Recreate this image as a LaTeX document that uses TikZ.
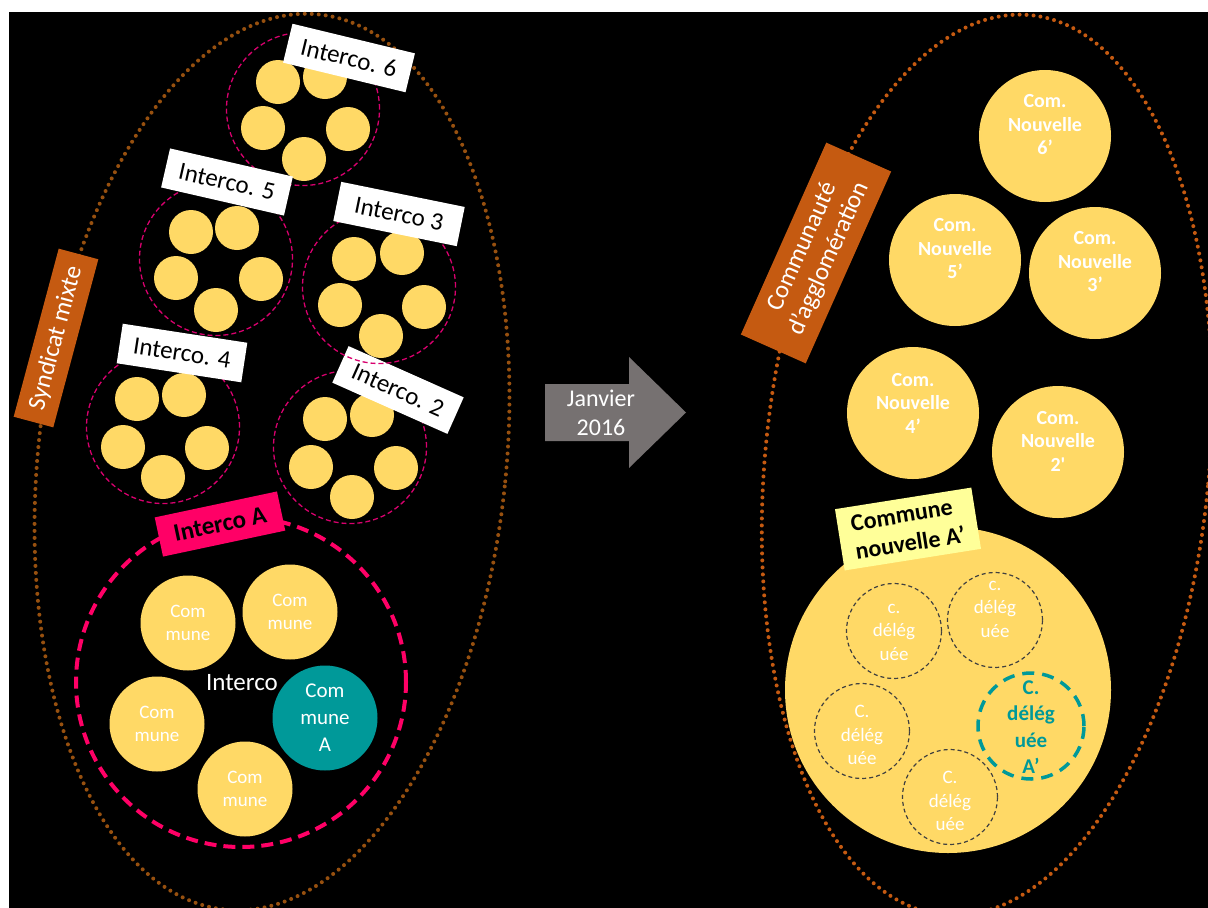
\documentclass[tikz,border=0pt]{standalone}
\usepackage{fontspec}
\setmainfont{Carlito}
\definecolor{cyel}{HTML}{FFD966}
\definecolor{cmag}{HTML}{D8006E}
\definecolor{cpink}{HTML}{FF0066}
\definecolor{cteal}{HTML}{009999}
\definecolor{cgray}{HTML}{767171}
\definecolor{corange}{HTML}{C55A11}
\definecolor{cbrown}{HTML}{97500F}
\definecolor{clight}{HTML}{FFFF99}
\definecolor{cdash}{HTML}{404040}
\tikzset{
  ycirc/.style={circle, fill=cyel, minimum size=44pt, inner sep=0pt},
  grp/.style={circle, draw=cmag, line width=1.3pt, dash pattern=on 5pt off 3pt, minimum size=153pt, inner sep=0pt},
  wlabel/.style={fill=white, text=black, minimum width=126pt, minimum height=40pt, inner sep=0pt, font=\fontsize{25}{30}\selectfont},
  comm/.style={circle, fill=cyel, minimum size=95pt, inner sep=0pt},
  commtxt/.style={text=white, align=center, font=\fontsize{19}{23.5}\selectfont},
  nouv/.style={circle, fill=cyel, minimum size=132pt, inner sep=0pt},
  nouvtxt/.style={text=white, align=center, font=\bfseries\fontsize{20}{23.5}\selectfont},
  deleg/.style={circle, draw=cdash, line width=1.2pt, dash pattern=on 4pt off 3pt, minimum size=95pt, inner sep=0pt},
  delegtxt/.style={text=white, align=center, font=\fontsize{19}{23.5}\selectfont},
  orangebox/.style={fill=corange, text=white, inner sep=0pt, align=center, font=\fontsize{25}{29}\selectfont},
  leftdots/.style={draw=cbrown, line width=4pt, line cap=round, dash pattern=on 0pt off 7pt},
  rightdots/.style={draw=corange, line width=4pt, line cap=round, dash pattern=on 0pt off 7pt}
}
\begin{document}
\begin{tikzpicture}[x=1pt,y=-1pt]
\useasboundingbox (0,0) rectangle (1208,908);
\fill[white] (0,0) rectangle (1208,908);
\fill[black] (9,12) rectangle (1208,908);

% big ellipses
\draw[leftdots, rotate around={-6:(272,462)}] (272,462) ellipse [x radius=234, y radius=450];
\draw[rightdots, rotate around={-5.5:(987,465)}] (987,465) ellipse [x radius=222, y radius=452];

% Interco 6
\node[grp] (g6) at (303,109) {};
\node[ycirc] (g6a) at (278,82) {};
\node[ycirc] (g6b) at (325,77) {};
\node[ycirc] (g6c) at (263,128) {};
\node[ycirc] (g6d) at (348,129) {};
\node[ycirc] (g6e) at (304,159) {};
\node[wlabel, rotate=-13.6] (l6) at (349,58) {Interco. 6};

% Interco 5
\node[grp] (g5) at (216,259) {};
\node[ycirc] (g5a) at (191,232) {};
\node[ycirc] (g5b) at (237,228) {};
\node[ycirc] (g5c) at (176,278) {};
\node[ycirc] (g5d) at (261,279) {};
\node[ycirc] (g5e) at (216,310) {};
\node[wlabel, rotate=-12.9] (l5) at (227,182) {Interco. 5};

% Interco 4
\node[grp] (g4) at (163,427) {};
\node[ycirc] (g4a) at (137,399) {};
\node[ycirc] (g4b) at (184,395) {};
\node[ycirc] (g4c) at (123,447) {};
\node[ycirc] (g4d) at (207,448) {};
\node[ycirc] (g4e) at (163,477) {};
\node[wlabel, rotate=-8.7] (l4) at (182,353) {Interco. 4};

% Interco 2
\node[grp] (g2) at (350,447) {};
\node[ycirc] (g2a) at (325,419) {};
\node[ycirc] (g2b) at (372,415) {};
\node[ycirc] (g2c) at (311,467) {};
\node[ycirc] (g2d) at (396,468) {};
\node[ycirc] (g2e) at (352,497) {};
\node[wlabel, rotate=-24] (l2) at (398,390) {Interco. 2};

% Interco 3
\node[grp] (g3) at (379,287) {};
\node[ycirc] (g3a) at (354,259) {};
\node[ycirc] (g3b) at (402,253) {};
\node[ycirc] (g3c) at (340,305) {};
\node[ycirc] (g3d) at (424,307) {};
\node[ycirc] (g3e) at (381,336) {};
\node[wlabel, rotate=-11.5] (l3) at (399,214) {Interco 3};

% Syndicat mixte
\node[orangebox, minimum width=174pt, minimum height=41pt, rotate=75] (sm) at (56,338) {Syndicat mixte};

% Interco A
\node[circle, draw=cpink, line width=4pt, dash pattern=on 12pt off 7pt, minimum size=330pt, inner sep=0pt] (ga) at (241,682) {};
\node[fill=cpink, text=black, minimum width=125pt, minimum height=40pt, inner sep=0pt, rotate=12, font=\bfseries\fontsize{25}{30}\selectfont] (la) at (220,524) {Interco A};
\node[comm] (c1) at (188,623) {};
\node[comm] (c2) at (290,612) {};
\node[comm] (c3) at (157,724) {};
\node[comm] (c4) at (245,789) {};
\node[circle, fill=cteal, minimum size=105pt, inner sep=0pt] (cA) at (325,718) {};
\node[commtxt] (t1) at (c1) {Com\\mune};
\node[commtxt] (t2) at (c2) {Com\\mune};
\node[commtxt] (t3) at (c3) {Com\\mune};
\node[commtxt] (t4) at (c4) {Com\\mune};
\node[text=white, align=center, font=\fontsize{21}{27}\selectfont] (tA) at (cA) {Com\\mune\\A};
\node[text=white, font=\fontsize{25}{30}\selectfont] (ti) at (242,683) {Interco};

% Arrow
\fill[cgray] (545,384) -- (629,384) -- (629,357) -- (686,412.5) -- (629,468) -- (629,441) -- (545,441) -- cycle;
\node[text=white, align=center, font=\fontsize{24}{29}\selectfont] (jan) at (601,413) {Janvier\\2016};

% Right side
\node[orangebox, minimum width=210pt, minimum height=71pt, rotate=66] (ca) at (816,253) {Communauté\\d’agglomération};

\node[nouv] (n6) at (1045,136) {};
\node[nouv] (n5) at (955,260) {};
\node[nouv] (n3) at (1095,273) {};
\node[nouv] (n4) at (913,413) {};
\node[nouv] (n2) at (1058,452) {};
\node[nouvtxt] (tn6) at (1045,125) {Com.\\Nouvelle\\6’};
\node[nouvtxt] (tn5) at (955,249) {Com.\\Nouvelle\\5’};
\node[nouvtxt] (tn3) at (1095,262) {Com.\\Nouvelle\\3’};
\node[nouvtxt] (tn4) at (913,403) {Com.\\Nouvelle\\4’};
\node[nouvtxt] (tn2) at (1058,441) {Com.\\Nouvelle\\2\textquotesingle};

\node[circle, fill=cyel, minimum size=326pt, inner sep=0pt] (big) at (948,690) {};
\node[fill=clight, text=black, align=left, minimum width=138pt, minimum height=62pt, inner sep=0pt, rotate=9, font=\bfseries\fontsize{24}{29}\selectfont] (lna) at (908,529) {Commune\\nouvelle A’};

\node[deleg] (d1) at (894,631) {};
\node[deleg] (d2) at (995,620) {};
\node[deleg] (d3) at (862,731) {};
\node[deleg] (d4) at (950,797) {};
\node[circle, draw=cteal, line width=3.5pt, dash pattern=on 12pt off 8pt, minimum size=106pt, inner sep=0pt] (dA) at (1031,726) {};
\node[delegtxt] (td1) at (894,632) {c.\\délég\\uée};
\node[delegtxt] (td2) at (995,609) {c.\\délég\\uée};
\node[delegtxt] (td3) at (862,735) {C.\\délég\\uée};
\node[delegtxt] (td4) at (950,801) {C.\\délég\\uée};
\node[text=cteal, align=center, font=\bfseries\fontsize{21}{26.5}\selectfont] (tdA) at (1031,727) {C.\\délég\\uée\\A’};
\end{tikzpicture}
\end{document}
